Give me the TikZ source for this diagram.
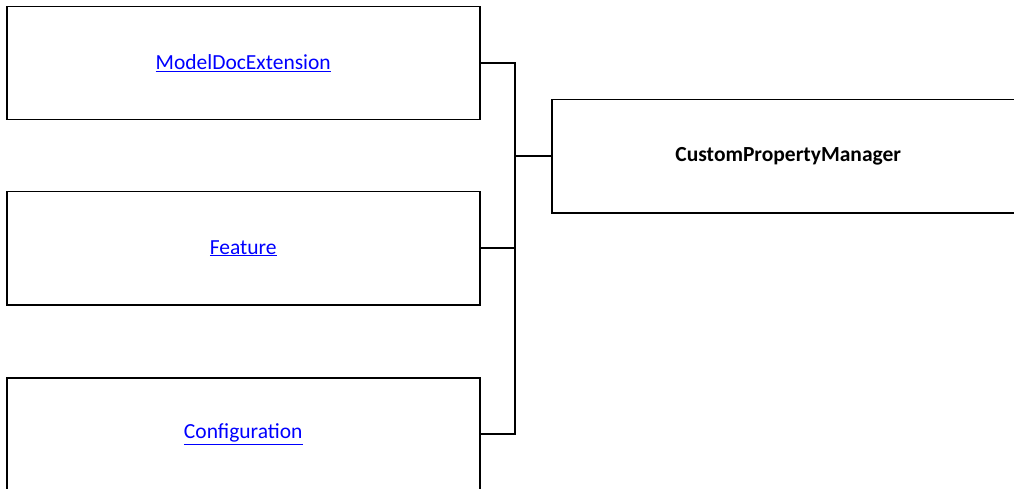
\documentclass[tikz,border=0pt]{standalone}
\usepackage{fontspec}
\setmainfont{Carlito}
\begin{document}
\begin{tikzpicture}[x=1pt,y=-1pt,
  box/.style={draw=black,line width=1.5pt,minimum width=473pt,minimum height=113pt,inner sep=0pt,anchor=north west,font=\fontsize{21.5}{24}\selectfont},
  conn/.style={draw=black,line width=1.7pt}]
\useasboundingbox (0,0) rectangle (1014,489);
\clip (0,0) rectangle (1014,489);
\node[box] (mde) at (6,6) {\textcolor{blue}{\underline{ModelDocExtension}}};
\node[box] (feat) at (6,191) {\textcolor{blue}{\underline{Feature}}};
\node[box] (conf) at (6,377) {\textcolor{blue}{\underline{Configuration}}};
\node[box] (cpm) at (551,99) {\textbf{CustomPropertyManager}};
\coordinate (bus) at (515,155.5);
\draw[conn] (mde.east) -| (bus);
\draw[conn] (conf.east) -| (bus);
\draw[conn] (feat.east) -| (bus);
\draw[conn] (cpm.west -| bus) -- (cpm.west);
\end{tikzpicture}
\end{document}
